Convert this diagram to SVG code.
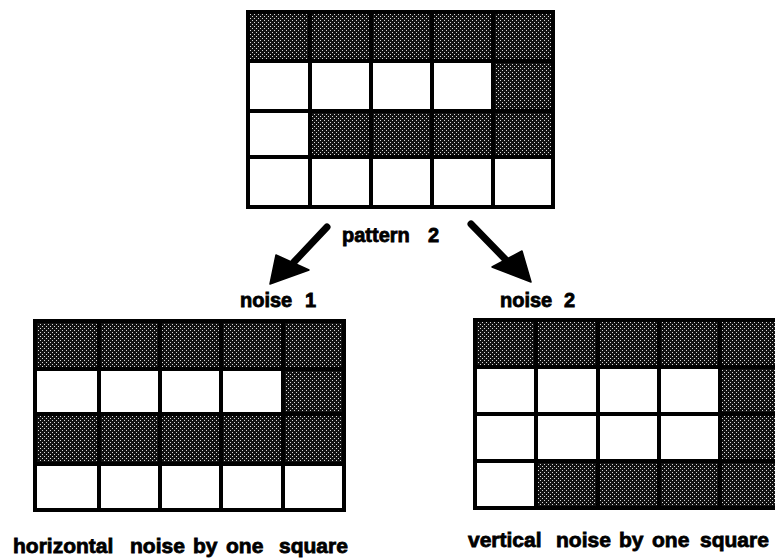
<svg xmlns="http://www.w3.org/2000/svg" width="775" height="559" viewBox="0 0 775 559">
  <style>
    .frame { fill: #000; }
    .w { fill: #fff; }
    .d { fill: url(#stipple); }
    .lbl { font-family: "Liberation Sans", Arial, Helvetica, sans-serif; font-weight: bold; font-size: 20px; fill: #000; stroke: #000; stroke-width: 0.8; }
    .cap { font-size: 21px; }
    .shaft { stroke: #000; stroke-width: 7; stroke-linecap: round; fill: none; }
    .head { fill: #000; stroke: #000; stroke-width: 1.5; stroke-linejoin: round; }
  </style>
  <defs>
    <!-- dotted screen used for the filled squares -->
    <pattern id="stipple" patternUnits="userSpaceOnUse" width="4" height="4">
      <rect width="4" height="4" fill="#111"/>
      <rect x="0" y="0" width="1" height="1" fill="#d8d8d8"/>
      <rect x="2" y="2" width="1" height="1" fill="#d8d8d8"/>
    </pattern>
  </defs>
  <rect width="775" height="559" fill="#fff"/>

  <!-- pattern 2 -->
  <g id="pattern2">
    <rect class="frame" x="246" y="10" width="309" height="199"/>
    <rect class="d" x="250" y="14" width="58" height="45"/>
    <rect class="d" x="312" y="14" width="57" height="45"/>
    <rect class="d" x="373" y="14" width="57" height="45"/>
    <rect class="d" x="434" y="14" width="57" height="45"/>
    <rect class="d" x="495" y="14" width="56" height="45"/>

    <rect class="w" x="250" y="63" width="58" height="46"/>
    <rect class="w" x="312" y="63" width="57" height="46"/>
    <rect class="w" x="373" y="63" width="57" height="46"/>
    <rect class="w" x="434" y="63" width="57" height="46"/>
    <rect class="d" x="495" y="63" width="56" height="46"/>

    <rect class="w" x="250" y="113" width="58" height="42"/>
    <rect class="d" x="312" y="113" width="57" height="42"/>
    <rect class="d" x="373" y="113" width="57" height="42"/>
    <rect class="d" x="434" y="113" width="57" height="42"/>
    <rect class="d" x="495" y="113" width="56" height="42"/>

    <rect class="w" x="250" y="159" width="58" height="46"/>
    <rect class="w" x="312" y="159" width="57" height="46"/>
    <rect class="w" x="373" y="159" width="57" height="46"/>
    <rect class="w" x="434" y="159" width="57" height="46"/>
    <rect class="w" x="495" y="159" width="56" height="46"/>
    <text class="lbl" x="342" y="242">pattern</text>
    <text class="lbl" x="428" y="242">2</text>
  </g>

  <!-- noise 1: horizontal shift -->
  <g id="noise1">
    <text class="lbl" x="240" y="307">noise</text>
    <text class="lbl" x="305" y="307">1</text>
    <rect class="frame" x="33" y="319" width="313" height="193"/>
    <rect class="d" x="37" y="323" width="60" height="44"/>
    <rect class="d" x="101" y="323" width="57" height="44"/>
    <rect class="d" x="162" y="323" width="57" height="44"/>
    <rect class="d" x="223" y="323" width="58" height="44"/>
    <rect class="d" x="285" y="323" width="57" height="44"/>

    <rect class="w" x="37" y="371" width="60" height="41"/>
    <rect class="w" x="101" y="371" width="57" height="41"/>
    <rect class="w" x="162" y="371" width="57" height="41"/>
    <rect class="w" x="223" y="371" width="58" height="41"/>
    <rect class="d" x="285" y="371" width="57" height="41"/>

    <rect class="d" x="37" y="416" width="60" height="46"/>
    <rect class="d" x="101" y="416" width="57" height="46"/>
    <rect class="d" x="162" y="416" width="57" height="46"/>
    <rect class="d" x="223" y="416" width="58" height="46"/>
    <rect class="d" x="285" y="416" width="57" height="46"/>

    <rect class="w" x="37" y="466" width="60" height="42"/>
    <rect class="w" x="101" y="466" width="57" height="42"/>
    <rect class="w" x="162" y="466" width="57" height="42"/>
    <rect class="w" x="223" y="466" width="58" height="42"/>
    <rect class="w" x="285" y="466" width="57" height="42"/>
    <text class="lbl cap" x="13" y="553">horizontal</text>
    <text class="lbl cap" x="130" y="553">noise</text>
    <text class="lbl cap" x="193" y="553">by</text>
    <text class="lbl cap" x="226" y="553">one</text>
    <text class="lbl cap" x="279" y="553">square</text>
  </g>

  <!-- noise 2: vertical shift -->
  <g id="noise2">
    <text class="lbl" x="500" y="307">noise</text>
    <text class="lbl" x="564" y="307">2</text>
    <rect class="frame" x="473" y="318" width="320" height="192"/>
    <rect class="d" x="477" y="322" width="57" height="43"/>
    <rect class="d" x="538" y="322" width="58" height="43"/>
    <rect class="d" x="600" y="322" width="57" height="43"/>
    <rect class="d" x="661" y="322" width="57" height="43"/>
    <rect class="d" x="722" y="322" width="57" height="43"/>

    <rect class="w" x="477" y="369" width="57" height="43"/>
    <rect class="w" x="538" y="369" width="58" height="43"/>
    <rect class="w" x="600" y="369" width="57" height="43"/>
    <rect class="w" x="661" y="369" width="57" height="43"/>
    <rect class="d" x="722" y="369" width="57" height="43"/>

    <rect class="w" x="477" y="416" width="57" height="43"/>
    <rect class="w" x="538" y="416" width="58" height="43"/>
    <rect class="w" x="600" y="416" width="57" height="43"/>
    <rect class="w" x="661" y="416" width="57" height="43"/>
    <rect class="d" x="722" y="416" width="57" height="43"/>

    <rect class="w" x="477" y="463" width="57" height="43"/>
    <rect class="d" x="538" y="463" width="58" height="43"/>
    <rect class="d" x="600" y="463" width="57" height="43"/>
    <rect class="d" x="661" y="463" width="57" height="43"/>
    <rect class="d" x="722" y="463" width="57" height="43"/>
    <text class="lbl cap" x="468" y="547">vertical</text>
    <text class="lbl cap" x="556" y="547">noise</text>
    <text class="lbl cap" x="619" y="547">by</text>
    <text class="lbl cap" x="652" y="547">one</text>
    <text class="lbl cap" x="700" y="547">square</text>
  </g>

  <!-- connectors -->
  <g id="connectors">
    <line class="shaft" x1="327" y1="227" x2="294" y2="262"/>
    <polygon class="head" points="270,284 276,255 309,270"/>
    <line class="shaft" x1="471" y1="224" x2="506" y2="260"/>
    <polygon class="head" points="531,282 492,267 522,251"/>
  </g>
</svg>
